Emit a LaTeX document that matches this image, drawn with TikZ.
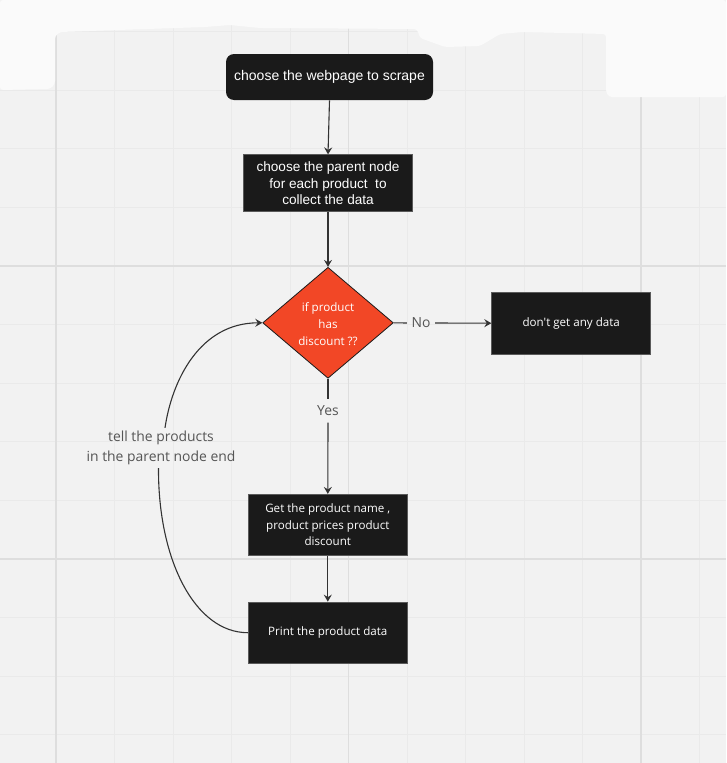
\documentclass[tikz,border=0pt]{standalone}
\usepackage{fontspec}
\setmainfont{Open Sans}
\newfontfamily\openf{Open Sans}
\newfontfamily\arialf{Liberation Sans}
\usetikzlibrary{shapes.geometric,arrows.meta}
\definecolor{bg}{HTML}{F2F2F2}
\definecolor{gridminor}{HTML}{EAEAEA}
\definecolor{gridmajor}{HTML}{DEDEDE}
\definecolor{boxfill}{HTML}{1A1A1A}
\definecolor{boxedge}{HTML}{5A5A5A}
\definecolor{redfill}{HTML}{F24726}
\definecolor{conn}{HTML}{333333}
\definecolor{lbl}{HTML}{555555}
\definecolor{torn}{HTML}{FAFAFA}
\begin{document}
\begin{tikzpicture}[x=1pt,y=-1pt,
  blk/.style={draw=boxedge, line width=0.8pt, fill=boxfill, text=white, align=center, inner sep=0pt,
    minimum width=159pt, font=\openf\fontsize{11.6}{16.4}\selectfont},
  arialblk/.style={blk, font=\arialf\fontsize{13.6}{16.3}\selectfont},
  decision/.style={diamond, draw=boxfill, line width=0.8pt, fill=redfill, inner sep=0pt,
    minimum width=130.6pt, minimum height=111pt},
  dtext/.style={text=white, align=center, inner sep=0pt, font=\openf\fontsize{11.6}{16.7}\selectfont},
  lab/.style={text=lbl, align=center, inner xsep=4.5pt, inner ysep=6.5pt, font=\openf\fontsize{13.9}{20}\selectfont},
  conn/.style={draw=conn, line width=1.1pt},
  arr/.style={conn, -{Stealth[length=7pt,width=8pt,inset=2.5pt]}},
  gminor/.style={draw=gridminor, line width=1pt},
  gmajor/.style={draw=gridmajor, line width=1.6pt}]
\useasboundingbox (0,0) rectangle (726,763);
\fill[bg] (0,0) rectangle (726,763);
% grid
\foreach \k in {0,...,11} {
  \pgfmathsetmacro{\gx}{56+58.5*\k}
  \draw[gminor] (\gx,0) -- (\gx,763);
}
\foreach \k in {-4,...,8} {
  \pgfmathsetmacro{\gy}{266+58.6*\k}
  \draw[gminor] (0,\gy) -- (726,\gy);
}
\foreach \gx in {56,348.5,641} \draw[gmajor] (\gx,0) -- (\gx,763);
\foreach \gy in {266,559} \draw[gmajor] (0,\gy) -- (726,\gy);
% top torn area
\fill[torn, rounded corners=3pt] (0,0) -- (726,0) -- (726,97) -- (609,97) -- (606,92) -- (606,34)
  -- (523,32) -- (500,34) -- (480,46) -- (445,47) -- (420,38) -- (417,29) -- (260,28)
  -- (230,25) -- (205,27) -- (60,32) -- (55,36) -- (55,84) -- (50,89) -- (0,90) -- cycle;
% nodes
\node[blk, rounded corners=8pt, draw=none, minimum width=207pt, minimum height=46pt,
  font=\arialf\fontsize{14}{16}\selectfont] (web) at (329.5,77) {choose the webpage to scrape};
\node[arialblk, minimum width=169pt, minimum height=57pt] (parent) at (328,183.3)
  {choose the parent node\\for each product\ \ to\\collect the data};
\node[decision] (dia) at (328,322.8) {};
\node[dtext] (diat) at (328,324) {if product\\has\\discount ??};
\node[blk, minimum height=62pt] (none) at (571.2,323.2) {don't get any data};
\node[blk, minimum height=61.4pt] (get) at (327.8,525)
  {Get the product name ,\\product prices product\\discount};
\node[blk, minimum height=61.3pt] (print) at (327.8,632.7) {Print the product data};
\node[lab] (no) at (421,323) {No};
\node[lab] (yes) at (328,411) {Yes};
\node[lab, inner ysep=3pt] (tell) at (161,448) {tell the products\\in the parent node end};
% connectors
\draw[arr] (web.south) -- (parent.north);
\draw[arr] (parent.south) -- (dia.north);
\draw[conn] (dia.east) -- (no.west);
\draw[arr] (no.east) -- (none.west);
\draw[conn] (dia.south) -- (yes.north);
\draw[arr] (yes.south) -- (get.north);
\draw[arr] (get.south) -- (print.north);
\draw[conn] (print.west) .. controls (195,632.7) and (158,560) .. ([xshift=-2.5pt]tell.south);
\draw[arr] ([xshift=4pt]tell.north) .. controls (172,380) and (200,322.8) .. (dia.west);
\end{tikzpicture}
\end{document}
